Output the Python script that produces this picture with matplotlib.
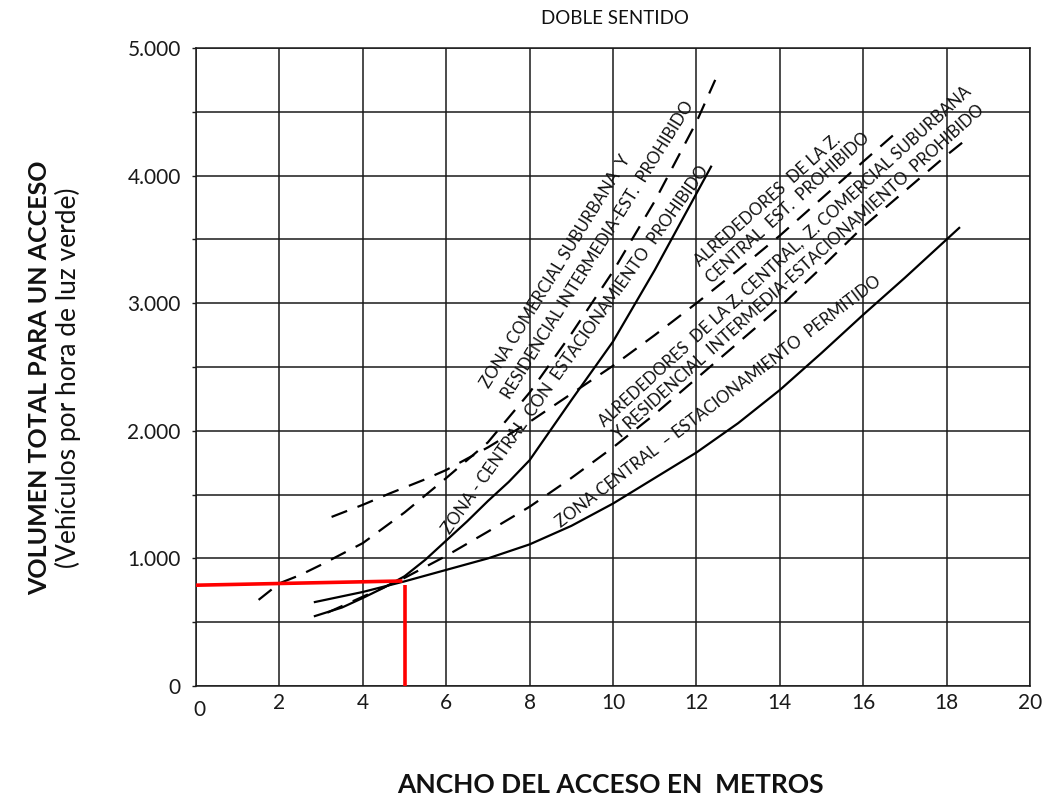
import matplotlib
matplotlib.use("Agg")
import matplotlib.pyplot as plt

plt.rcParams['font.family'] = ['Lato', 'DejaVu Sans']

# Curves: ancho del acceso (m) vs vehiculos por hora de verde

# dashed - zona comercial suburbana y residencial intermedia, est. prohibido
sub_x = [1.5, 2, 2.5, 3, 4, 5, 6, 7, 8, 9, 10, 11, 12, 12.45]
sub_y = [675, 805, 870, 950, 1120, 1360, 1630, 1910, 2300, 2760, 3250, 3800, 4420, 4750]

# dashed - alrededores de la z. central, est. prohibido
alr_x = [3.25, 4, 4.65, 5.45, 6, 7, 8, 9, 10, 11, 12, 13, 14, 15, 16, 16.8]
alr_y = [1325, 1420, 1510, 1614, 1693, 1870, 2070, 2290, 2510, 2750, 3000, 3260, 3530, 3820, 4110, 4340]

# dashed - alrededores z. central, z. comercial suburbana y residencial intermedia
res_x = [3.15, 4, 4.9, 6, 7, 8, 9, 10, 11, 12, 13, 14, 15, 16, 17, 18, 18.4]
res_y = [575, 700, 830, 1020, 1210, 1405, 1630, 1870, 2130, 2410, 2690, 2970, 3280, 3600, 3880, 4160, 4265]

# solid - zona central con estacionamiento prohibido
cen_x = [2.85, 3.5, 4, 4.5, 5, 5.5, 6, 6.5, 7, 7.5, 8, 9, 10, 11, 12, 12.35]
cen_y = [548, 615, 690, 770, 860, 990, 1140, 1290, 1450, 1600, 1770, 2240, 2700, 3260, 3860, 4070]

# solid - zona central, estacionamiento permitido
per_x = [2.85, 4, 5, 6, 7, 8, 9, 10, 11, 12, 13, 14, 15, 16, 17, 18, 18.3]
per_y = [658, 737, 820, 910, 1000, 1110, 1255, 1430, 1630, 1830, 2060, 2320, 2610, 2910, 3200, 3500, 3590]

# red reading example (5 m -> ~800 veh)
red_h_x = [0, 4.95]
red_h_y = [790, 823]
red_v_x = [5, 5]
red_v_y = [790, 0]

xticks = [0, 2, 4, 6, 8, 10, 12, 14, 16, 18, 20]
yticks = [0, 1000, 2000, 3000, 4000, 5000]
ytick_labels = ["0", "1.000", "2.000", "3.000", "4.000", "5.000"]

curve_labels = [
    "ZONA COMERCIAL SUBURBANA  Y",
    "RESIDENCIAL INTERMEDIA-EST.  PROHIBIDO",
    "ZONA - CENTRAL  CON  ESTACIONAMIENTO  PROHIBIDO",
    "ALREDEDORES  DE LA Z.",
    "CENTRAL  EST.  PROHIBIDO",
    "ALREDEDORES  DE LA Z. CENTRAL,  Z. COMERCIAL SUBURBANA",
    "Y RESIDENCIAL  INTERMEDIA-ESTACIONAMIENTO  PROHIBIDO",
    "ZONA CENTRAL  \u2013 ESTACIONAMIENTO  PERMITIDO",
]

fig = plt.figure(figsize=(10.54, 8), dpi=100)
ax = fig.add_axes([0.186, 0.1425, 0.7913, 0.7975])

lw = 1.6
dash = (0, (7.5, 5))
ax.plot(sub_x, sub_y, color='black', lw=lw, linestyle=dash)
ax.plot(alr_x, alr_y, color='black', lw=lw, linestyle=dash)
ax.plot(res_x, res_y, color='black', lw=lw, linestyle=dash)
ax.plot(cen_x, cen_y, color='black', lw=lw)
ax.plot(per_x, per_y, color='black', lw=lw)

ax.plot(red_h_x, red_h_y, color='#ff0000', lw=2.6, solid_capstyle='butt', zorder=5)
ax.plot(red_v_x, red_v_y, color='#ff0000', lw=2.6, solid_capstyle='butt', zorder=5)

ax.set_xlim(0, 20)
ax.set_ylim(0, 5000)
ax.set_xticks(xticks)
ax.set_xticklabels([''] + [str(v) for v in xticks[1:]])
ax.set_yticks(yticks)
ax.set_yticklabels(ytick_labels)
ax.set_yticks(range(500, 5000, 1000), minor=True)
ax.grid(True, which='both', color='#1a1a1a', lw=1.1)
ax.set_axisbelow(True)
ax.tick_params(axis='x', length=0, pad=5, labelsize=15, colors='#1a1a1a')
ax.tick_params(axis='y', which='both', direction='out', length=3, width=1,
               pad=8, labelsize=15, colors='#1a1a1a')
# the zero of the x axis sits a bit lower in the original
ax.text(0.004, -0.022, "0", transform=ax.transAxes, ha='center', va='top',
        fontsize=15, color='#1a1a1a')
for s in ax.spines.values():
    s.set_color('#1a1a1a')
    s.set_linewidth(1.1)

# labels along the curves: (x, y, angle)
label_pos = [
    (8.63, 3245, 58.3),
    (9.64, 3417, 58.0),
    (9.11, 2633, 54.6),
    (13.7, 3809, 41.6),
    (14.2, 3746, 42.4),
    (14.12, 3370, 42.3),
    (14.46, 3245, 41.9),
    (12.52, 2226, 37.3),
]
for txt, (x, y, ang) in zip(curve_labels, label_pos):
    ax.text(x, y, txt, rotation=ang, rotation_mode='anchor', ha='center',
            va='center', fontsize=12, color='#111111')

fig.text(615 / 1054, 1 - 18 / 800, "DOBLE SENTIDO", ha='center', va='center',
         fontsize=13.5, color='#111111')
fig.text(40 / 1054, 1 - 378 / 800, "VOLUMEN TOTAL PARA UN ACCESO", rotation=90,
         ha='center', va='center', fontsize=18, fontweight='bold', color='#111111')
fig.text(68 / 1054, 1 - 378 / 800, "(Vehículos por hora de luz verde)", rotation=90,
         ha='center', va='center', fontsize=19, color='#111111')
fig.text(610 / 1054, 1 - 785 / 800, "ANCHO DEL ACCESO EN  METROS", ha='center',
         va='center', fontsize=19, fontweight='bold', color='#111111')

fig.savefig("out.png", dpi=100)
